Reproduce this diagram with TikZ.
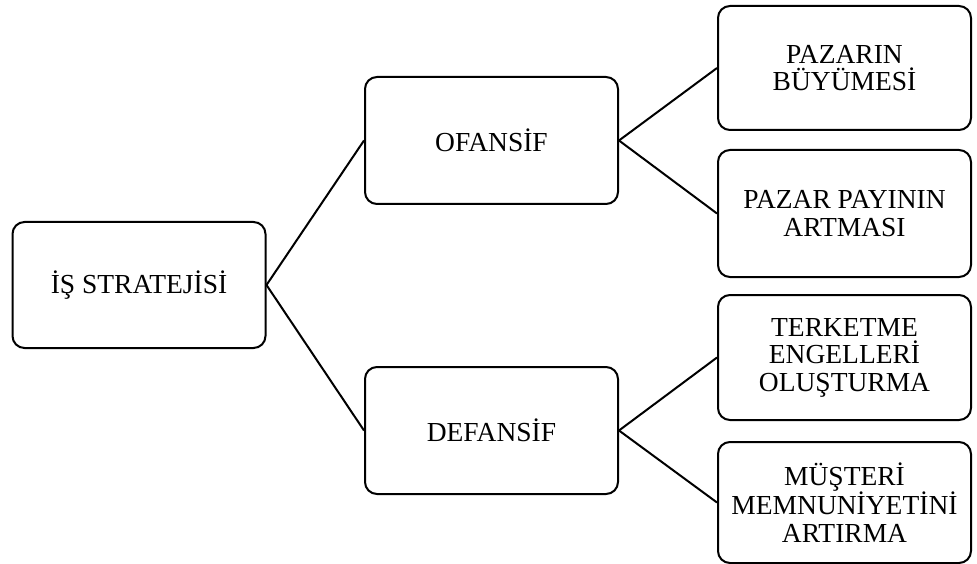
\documentclass[tikz,border=0pt]{standalone}
\usepackage{fontspec}
\setmainfont{Liberation Serif}
\begin{document}
\begin{tikzpicture}[x=1pt,y=-1pt,
  box/.style={draw=black, line width=2pt, rounded corners=12pt, fill=white,
    minimum width=253pt, inner sep=0pt, align=center,
    font=\fontsize{27.5}{27.5}\selectfont},
  link/.style={draw=black, line width=2pt}]
\useasboundingbox (0,0) rectangle (977,564);
\node[box, minimum height=126pt] (is) at (139,285) {İŞ STRATEJİSİ};
\node[box, minimum height=127pt] (of) at (491.5,140.5) {OFANSİF};
\node[box, minimum height=127pt] (de) at (491.5,430.5) {DEFANSİF};
\node[box, minimum height=124pt] (r1) at (844.5,68) {PAZARIN\\BÜYÜMESİ};
\node[box, minimum height=127pt] (r2) at (844.5,213.5) {PAZAR PAYININ\\ARTMASI};
\node[box, minimum height=125pt] (r3) at (844.5,357.5) {TERKETME\\ENGELLERİ\\OLUŞTURMA};
\node[box, minimum height=121pt] (r4) at (844.5,502.5) {MÜŞTERİ\\MEMNUNİYETİNİ\\ARTIRMA};
\draw[link] (is.east) -- (of.west);
\draw[link] (is.east) -- (de.west);
\draw[link] (of.east) -- (r1.west);
\draw[link] (of.east) -- (r2.west);
\draw[link] (de.east) -- (r3.west);
\draw[link] (de.east) -- (r4.west);
\end{tikzpicture}
\end{document}
